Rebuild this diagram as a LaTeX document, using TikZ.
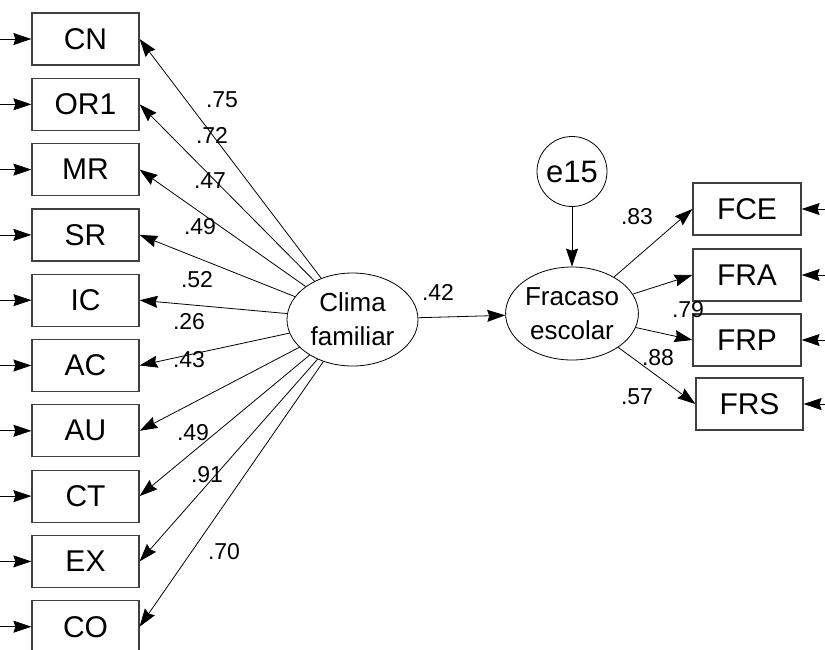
\documentclass[tikz,border=0pt]{standalone}
\usepackage{fontspec}
\setmainfont{Liberation Sans}
\usetikzlibrary{arrows.meta,shapes.geometric}

\begin{document}
\begin{tikzpicture}[x=1pt,y=-1pt,line width=.8pt,
    >={Stealth[length=18pt,width=12pt,inset=2pt]},
    obs/.style={draw=black!75,line width=1.2pt,minimum width=107pt,minimum height=52pt,inner sep=0pt,font=\fontsize{30}{32}\selectfont},
    lat/.style={draw,ellipse,minimum width=131pt,minimum height=93pt,inner sep=0pt,align=center,font=\fontsize{26}{34}\selectfont},
    coef/.style={inner sep=0pt,font=\fontsize{23}{25}\selectfont}]
    \useasboundingbox (0,0) rectangle (825,649);
    % indicadores de clima familiar
    \node[obs] (cn) at (85.5,39) {CN};
    \node[obs] (or1) at (85.5,104.3) {OR1};
    \node[obs] (mr) at (85.5,169.6) {MR};
    \node[obs] (sr) at (85.5,234.9) {SR};
    \node[obs] (ic) at (85.5,300.2) {IC};
    \node[obs] (ac) at (85.5,365.5) {AC};
    \node[obs] (au) at (85.5,430.8) {AU};
    \node[obs] (ct) at (85.5,496.1) {CT};
    \node[obs] (ex) at (85.5,561.4) {EX};
    \node[obs] (co) at (85.5,626.7) {CO};
    \foreach \v in {cn,or1,mr,sr,ic,ac,au,ct,ex,co}
      \draw[->] (\v.west -| 0,0) -- (\v);
    % latentes
    \node[lat] (clima) at (352.5,319.5) {Clima\\familiar};
    \node[lat] (fracaso) at (572,313.5) {Fracaso\\escolar};
    \node[draw,circle,minimum size=70pt,inner sep=0pt,font=\fontsize{31}{33}\selectfont] (e15) at (572,171.5) {e15};
    % indicadores de fracaso escolar
    \node[obs,minimum width=108pt] (fce) at (747,209) {FCE};
    \node[obs,minimum width=108pt] (fra) at (747,275) {FRA};
    \node[obs,minimum width=108pt] (frp) at (747,340) {FRP};
    \node[obs,minimum width=107pt] (frs) at (749.5,404) {FRS};
    \foreach \v in {fce,fra,frp,frs}
      \draw[->] (\v.east -| 825,0) -- (\v);
    % saturaciones
    \foreach \v in {cn,or1,mr,sr,ic,ac,au,ct,ex,co}
      \draw[->] (clima) -- (\v.east);
    \foreach \v in {fce,fra,frp,frs}
      \draw[->] (fracaso) -- (\v.west);
    \draw[->] (e15) -- (fracaso);
    \draw[->] (clima) -- (fracaso);
    % coeficientes
    \node[coef] (k1) at (222,100) {.75};
    \node[coef] (k2) at (212,135) {.72};
    \node[coef] (k3) at (210,181) {.47};
    \node[coef] (k4) at (200,227) {.49};
    \node[coef] (k5) at (197,280) {.52};
    \node[coef] (k6) at (189,322) {.26};
    \node[coef] (k7) at (189,360) {.43};
    \node[coef] (k8) at (193,433) {.49};
    \node[coef] (k9) at (207,475) {.91};
    \node[coef] (k10) at (224,552) {.70};
    \node[coef] (k11) at (438,292) {.42};
    \node[coef] (k12) at (637,217) {.83};
    \node[coef] (k13) at (688,310) {.79};
    \node[coef] (k14) at (658,358) {.88};
    \node[coef] (k15) at (637,397) {.57};
\end{tikzpicture}
\end{document}
